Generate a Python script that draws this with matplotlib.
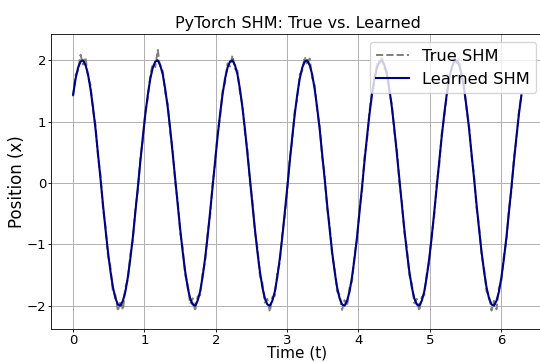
import numpy as np
import matplotlib
matplotlib.use("Agg")
import matplotlib.pyplot as plt

# Time axis: 0 .. 2*pi, 181 samples
t_start = 0.0
t_end = 2 * np.pi
n_samples = 181

# Learned SHM (network output)
learned_x = [
    1.44, 1.70, 1.88, 1.98, 2.00, 1.92, 1.77, 1.53, 1.23, 0.88, 0.48, 0.07, -0.35, -0.75, -1.12,
    -1.44, -1.70, -1.88, -1.98, -2.00, -1.92, -1.77, -1.53, -1.23, -0.88, -0.48, -0.07, 0.35, 0.75, 1.12,
    1.44, 1.70, 1.88, 1.98, 2.00, 1.92, 1.77, 1.53, 1.23, 0.88, 0.48, 0.07, -0.35, -0.75, -1.12,
    -1.44, -1.70, -1.88, -1.98, -2.00, -1.92, -1.77, -1.53, -1.23, -0.88, -0.48, -0.07, 0.35, 0.75, 1.12,
    1.44, 1.70, 1.88, 1.98, 2.00, 1.92, 1.77, 1.53, 1.23, 0.88, 0.48, 0.07, -0.35, -0.75, -1.12,
    -1.44, -1.70, -1.88, -1.98, -2.00, -1.92, -1.77, -1.53, -1.23, -0.88, -0.48, -0.07, 0.35, 0.75, 1.12,
    1.44, 1.70, 1.88, 1.98, 2.00, 1.92, 1.77, 1.53, 1.23, 0.88, 0.48, 0.07, -0.35, -0.75, -1.12,
    -1.44, -1.70, -1.88, -1.98, -2.00, -1.92, -1.77, -1.53, -1.23, -0.88, -0.48, -0.07, 0.35, 0.75, 1.12,
    1.44, 1.70, 1.88, 1.98, 2.00, 1.92, 1.77, 1.53, 1.23, 0.88, 0.48, 0.07, -0.35, -0.75, -1.12,
    -1.44, -1.70, -1.88, -1.98, -2.00, -1.92, -1.77, -1.53, -1.23, -0.88, -0.48, -0.07, 0.35, 0.75, 1.12,
    1.44, 1.70, 1.88, 1.98, 2.00, 1.92, 1.77, 1.53, 1.23, 0.88, 0.48, 0.07, -0.35, -0.75, -1.12,
    -1.44, -1.70, -1.88, -1.98, -2.00, -1.92, -1.77, -1.53, -1.23, -0.88, -0.48, -0.07, 0.35, 0.75, 1.12,
    1.43,
]

# True SHM (noisy measurements)
true_x = [
    1.41, 1.76, 1.84, 2.09, 1.93, 2.05, 1.72, 1.60, 1.18, 0.95, 0.43, 0.13, -0.41, -0.70, -1.19,
    -1.37, -1.78, -1.83, -2.09, -1.92, -2.07, -1.70, -1.58, -1.16, -0.93, -0.42, -0.12, 0.41, 0.69, 1.17,
    1.38, 1.75, 1.95, 1.89, 2.17, 1.86, 1.83, 1.47, 1.29, 0.82, 0.54, 0.01, -0.29, -0.81, -1.06,
    -1.50, -1.64, -1.97, -1.88, -2.09, -1.85, -1.83, -1.47, -1.29, -0.81, -0.55, -0.01, 0.29, 0.82, 1.06,
    1.50, 1.63, 1.95, 1.90, 2.08, 1.86, 1.83, 1.47, 1.27, 0.81, 0.55, 0.02, -0.28, -0.80, -1.05,
    -1.51, -1.63, -1.95, -1.89, -2.10, -1.86, -1.84, -1.46, -1.30, -0.83, -0.54, -0.13, 0.41, 0.70, 1.18,
    1.37, 1.77, 1.83, 2.06, 1.92, 2.03, 1.71, 1.59, 1.17, 0.94, 0.42, 0.14, -0.42, -0.68, -1.18,
    -1.38, -1.77, -1.82, -2.07, -1.91, -2.01, -1.71, -1.60, -1.17, -0.94, -0.41, -0.14, 0.42, 0.69, 1.17,
    1.49, 1.64, 1.94, 1.91, 2.07, 1.87, 1.82, 1.48, 1.28, 0.82, 0.56, 0.00, -0.29, -0.81, -1.05,
    -1.50, -1.64, -1.96, -1.89, -2.09, -1.86, -1.83, -1.47, -1.29, -0.82, -0.55, -0.00, 0.28, 0.81, 1.06,
    1.40, 1.75, 1.84, 2.07, 1.92, 2.03, 1.72, 1.59, 1.19, 0.94, 0.43, 0.13, -0.41, -0.69, -1.18,
    -1.38, -1.77, -1.83, -2.08, -1.92, -2.06, -1.71, -1.59, -1.17, -0.94, -0.42, -0.13, 0.41, 0.70, 1.17,
    1.43,
]

t = np.linspace(t_start, t_end, n_samples)

fig = plt.figure(figsize=(5.4, 3.62), dpi=100)
# axes run slightly past the right edge, like the cropped reference
ax = fig.add_axes([0.0944, 0.0912, 0.913, 0.815])

ax.plot(t, true_x, linestyle="--", color="#808080", linewidth=1.4, label="True SHM")
ax.plot(t, learned_x, color="navy", linewidth=1.5, label="Learned SHM")

ax.set_xlim(-0.31, 6.6)
ax.set_ylim(-2.38, 2.43)
ax.set_title("PyTorch SHM: True vs. Learned", fontsize=11.5, pad=4)
ax.set_xlabel("Time (t)", fontsize=11, labelpad=-1)
ax.set_ylabel("Position (x)", fontsize=12, labelpad=0)
ax.tick_params(labelsize=9.5, length=2, pad=1.5, width=0.6)
ax.grid(True, color="#b0b0b0", linewidth=0.7)
for sp in ax.spines.values():
    sp.set_linewidth(0.6)
ax.legend(loc="upper right", fontsize=11.7, handlelength=2.0)

fig.savefig("out.png", dpi=100)
